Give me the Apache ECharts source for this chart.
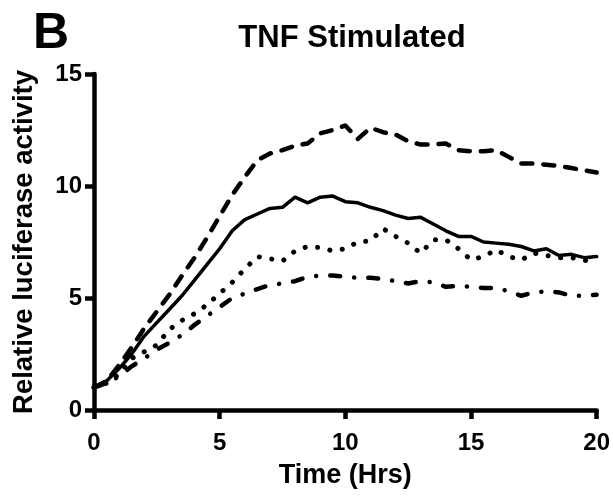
<!DOCTYPE html>
<html>
<head>
<meta charset="utf-8" />
<title>TNF Stimulated</title>
<script src="https://cdn.jsdelivr.net/npm/echarts@6/dist/echarts.min.js"></script>
<style>
  html, body { margin: 0; padding: 0; background: #fff; }
  #main { width: 613px; height: 498px; }
</style>
</head>
<body>
<div id="main"></div>
<script>
// time points every half hour
var hours = [];
for (var h = 0; h <= 20; h += 0.5) hours.push(h);

var solidVals = [1.0, 1.3, 1.85, 2.5, 3.3, 3.9, 4.5, 5.1, 5.8, 6.5, 7.2, 8.0, 8.5, 8.75, 9.0, 9.05, 9.5, 9.25, 9.5, 9.55, 9.3,
  9.25, 9.05, 8.9, 8.7, 8.55, 8.6, 8.3, 8.0, 7.75, 7.75, 7.5, 7.45, 7.4, 7.3, 7.1, 7.2, 6.9, 6.95, 6.8, 6.85];
var dashVals = [1.0, 1.3, 2.0, 2.8, 3.65, 4.4, 5.15, 6.0, 6.8, 7.7, 8.65, 9.6, 10.4, 11.15, 11.45, 11.6, 11.8, 11.9, 12.35, 12.5, 12.7,
  12.1, 12.6, 12.4, 12.3, 12.0, 11.85, 11.85, 11.9, 11.6, 11.55, 11.55, 11.6, 11.3, 11.0, 11.0, 10.95, 10.9, 10.8, 10.7, 10.6];
var dotVals = [1.0, 1.2, 1.6, 2.3, 2.6, 2.9, 3.6, 4.0, 4.3, 4.7, 5.2, 5.7, 6.3, 6.85, 6.75, 6.65, 7.1, 7.3, 7.25, 7.1, 7.2,
  7.5, 7.55, 8.1, 7.75, 7.45, 7.0, 7.6, 7.6, 7.2, 6.7, 6.85, 7.15, 6.85, 6.7, 7.0, 6.9, 6.8, 6.8, 6.7, 6.5];
var dashDotVals = [1.0, 1.2, 1.5, 1.95, 2.3, 2.7, 3.0, 3.35, 3.8, 4.2, 4.6, 5.0, 5.2, 5.4, 5.58, 5.65, 5.75, 5.95, 6.0, 6.0, 5.95,
  5.9, 5.9, 5.85, 5.75, 5.65, 5.75, 5.7, 5.5, 5.55, 5.5, 5.45, 5.45, 5.3, 5.1, 5.25, 5.3, 5.25, 5.1, 5.1, 5.15];

function pairs(vals) {
  var out = [];
  for (var i = 0; i < hours.length; i++) out.push([hours[i], vals[i]]);
  return out;
}

var font = '"Liberation Sans", Arial, sans-serif';

function line(name, vals, type, width) {
  return {
    name: name,
    type: 'line',
    data: pairs(vals),
    showSymbol: false,
    symbol: 'none',
    lineStyle: { color: '#000', width: width, type: type, cap: 'round', join: 'round' },
    z: 3
  };
}

var chart = echarts.init(document.getElementById('main'));
chart.setOption({
  animation: false,
  backgroundColor: '#fff',
  title: [
    { text: 'B', left: 28, top: 4, textStyle: { fontFamily: font, fontWeight: 'bold', fontSize: 50, color: '#000' } },
    { text: 'TNF Stimulated', left: 347, top: 18, textAlign: 'center',
      textStyle: { fontFamily: font, fontWeight: 'bold', fontSize: 31, color: '#000' } }
  ],
  grid: { left: 94, right: 16, top: 74, bottom: 88 },
  xAxis: {
    type: 'value', min: 0, max: 20, interval: 5,
    name: 'Time (Hrs)', nameLocation: 'middle', nameGap: 52,
    nameTextStyle: { fontFamily: font, fontWeight: 'bold', fontSize: 27, color: '#000' },
    axisLine: { lineStyle: { color: '#000', width: 4.5 } },
    axisTick: { length: 9, lineStyle: { color: '#000', width: 4.5 } },
    axisLabel: { margin: 21, fontFamily: font, fontWeight: 'bold', fontSize: 24, color: '#000' },
    splitLine: { show: false }
  },
  yAxis: {
    type: 'value', min: 0, max: 15, interval: 5,
    name: 'Relative luciferase activity', nameLocation: 'middle', nameGap: 56,
    nameTextStyle: { fontFamily: font, fontWeight: 'bold', fontSize: 27.5, color: '#000' },
    axisLine: { show: true, lineStyle: { color: '#000', width: 4.5 } },
    axisTick: { show: true, length: 9, lineStyle: { color: '#000', width: 4.5 } },
    axisLabel: { margin: 12, fontFamily: font, fontWeight: 'bold', fontSize: 24, color: '#000' },
    splitLine: { show: false }
  },
  series: [
    line('dashed', dashVals, [11, 11], 4.5),
    line('solid', solidVals, 'solid', 3.5),
    line('dotted', dotVals, [0.1, 12.5], 5),
    line('dashdot', dashDotVals, [10, 14, 0.1, 14], 4.5)
  ]
});
</script>
</body>
</html>
